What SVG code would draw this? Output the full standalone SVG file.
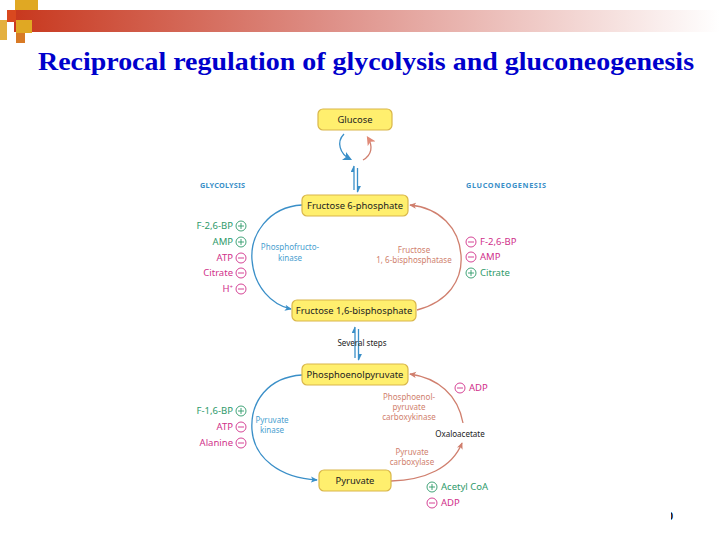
<svg xmlns="http://www.w3.org/2000/svg" width="720" height="540" viewBox="0 0 720 540">
<defs>
<linearGradient id="bar" x1="0" y1="0" x2="1" y2="0">
<stop offset="0" stop-color="#C8381E"/>
<stop offset="0.45" stop-color="#DE9088"/>
<stop offset="1" stop-color="#FFFFFF"/>
</linearGradient>
<marker id="ab" viewBox="0 0 8 8" refX="7" refY="4" markerWidth="7" markerHeight="7" orient="auto" markerUnits="userSpaceOnUse">
<path d="M0,0.5 L8,4 L0,7.5 L2,4 z" fill="#3A8FC8"/>
</marker>
<marker id="ar" viewBox="0 0 8 8" refX="7" refY="4" markerWidth="7" markerHeight="7" orient="auto" markerUnits="userSpaceOnUse">
<path d="M0,0.5 L8,4 L0,7.5 L2,4 z" fill="#D07F6E"/>
</marker>
<marker id="abig" viewBox="0 0 8 8" refX="6" refY="4" markerWidth="9" markerHeight="9" orient="auto" markerUnits="userSpaceOnUse">
<path d="M0,0 L8,4 L0,8 L2,4 z" fill="#3A8FC8"/>
</marker>
<marker id="arbig" viewBox="0 0 8 8" refX="6" refY="4" markerWidth="9" markerHeight="9" orient="auto" markerUnits="userSpaceOnUse">
<path d="M0,0 L8,4 L0,8 L2,4 z" fill="#E08A78"/>
</marker>
<marker id="abh" viewBox="0 0 8 8" refX="7" refY="4" markerWidth="7" markerHeight="7" orient="auto" markerUnits="userSpaceOnUse">
<path d="M0,4 L8,4 L0,0 z" fill="#3A8FC8"/>
</marker>
<clipPath id="pg"><rect x="671" y="505" width="20" height="20"/></clipPath>
</defs>
<style>
.box{fill:#FFEF6E;stroke:#D9B64A;stroke-width:1.2}
.bt{font-family:"Noto Sans","DejaVu Sans",sans-serif;font-size:9.4px;fill:#222;text-anchor:middle}
.lbl{font-family:"Noto Sans","DejaVu Sans",sans-serif;font-size:8px;text-anchor:middle}
.reg{font-family:"Noto Sans","DejaVu Sans",sans-serif;font-size:9.5px}
.g{fill:#2E9A6A}
.m{fill:#D0308A}
.cg{fill:none;stroke:#2E9A6A;stroke-width:0.9}
.cm{fill:none;stroke:#D0308A;stroke-width:0.9}
.blue{fill:none;stroke:#3A8FC8;stroke-width:1.3}
.red{fill:none;stroke:#D07F6E;stroke-width:1.3}
.hdr{font-family:"Noto Sans","DejaVu Sans",sans-serif;font-size:7.3px;font-weight:bold;fill:#3A8FC8}
</style>
<g id="header">
<rect x="14" y="10" width="706" height="22" fill="url(#bar)"/>
<rect x="15" y="0" width="23" height="10" fill="#E0A823"/>
<rect x="7" y="10" width="9" height="12" fill="#D9481F"/>
<rect x="0" y="20" width="7" height="20" fill="#E4B040"/>
<rect x="16" y="20" width="16" height="13" fill="#E0A823"/>
<rect x="16" y="33" width="9" height="10" fill="#D87A25"/>
<text x="366" y="70" font-family="Liberation Serif,serif" font-weight="bold" font-size="26" fill="#0000CC" text-anchor="middle" textLength="656" lengthAdjust="spacingAndGlyphs">Reciprocal regulation of glycolysis and gluconeogenesis</text>
</g>
<g id="connectors">
<path class="blue" d="M344,134 C336,142 340,154 350,159" stroke-width="3.2" marker-end="url(#abig)"/>
<path class="red" d="M363,160 C372,155 373,146 368,138" stroke-width="3.2" stroke="#E08A78" marker-end="url(#arbig)"/>
<line x1="354" y1="190" x2="354" y2="166" class="blue" stroke-width="1.5" marker-end="url(#abh)"/>
<line x1="357.5" y1="168" x2="357.5" y2="192" class="blue" stroke-width="1.5" marker-end="url(#abh)"/>
<line x1="355" y1="358" x2="355" y2="327" class="blue" stroke-width="1.5" marker-end="url(#abh)"/>
<line x1="358.5" y1="329" x2="358.5" y2="360" class="blue" stroke-width="1.5" marker-end="url(#abh)"/>
<path class="blue" d="M302,205 C268,207 250,235 252,260 C254,287 272,305 291,309" marker-end="url(#ab)"/>
<path class="red" d="M417,310 C448,302 463,280 461,255 C459,228 440,208 410,205" marker-end="url(#ar)"/>
<path class="blue" d="M302,375 C268,377 250,402 252,430 C254,458 280,478 317,480" marker-end="url(#ab)"/>
<path class="red" d="M391,481 C425,480 452,468 462,443" marker-end="url(#ar)"/>
<path class="red" d="M463,423 C458,395 438,378 410,374" marker-end="url(#ar)"/>
</g>
<g id="glucose">
<rect class="box" x="318" y="109" width="74" height="21" rx="5"/>
<text class="bt" x="355" y="122.5">Glucose</text>
</g>
<g id="f6p">
<rect class="box" x="302" y="195" width="106" height="21" rx="5"/>
<text class="bt" x="355" y="208.5">Fructose 6-phosphate</text>
</g>
<g id="f16bp">
<rect class="box" x="292" y="300" width="124" height="21" rx="5"/>
<text class="bt" x="354" y="313.5">Fructose 1,6-bisphosphate</text>
</g>
<g id="pep">
<rect class="box" x="302" y="364" width="106" height="21" rx="5"/>
<text class="bt" x="355" y="377.5">Phosphoenolpyruvate</text>
</g>
<g id="pyruvate">
<rect class="box" x="319" y="470" width="72" height="21" rx="5"/>
<text class="bt" x="355" y="483.5">Pyruvate</text>
</g>
<g id="labels">
<text class="hdr" x="200" y="188" textLength="45">GLYCOLYSIS</text>
<text class="hdr" x="466" y="188" textLength="80">GLUCONEOGENESIS</text>
<text class="lbl" x="290" y="250" fill="#4AA0D0">Phosphofructo-</text>
<text class="lbl" x="290" y="261" fill="#4AA0D0">kinase</text>
<text class="lbl" x="414" y="253" fill="#D07F6E">Fructose</text>
<text class="lbl" x="414" y="263" fill="#D07F6E">1, 6-bisphosphatase</text>
<text class="lbl" x="362" y="346" fill="#222" text-anchor="start">Several steps</text>
<text class="lbl" x="272" y="423" fill="#4AA0D0">Pyruvate</text>
<text class="lbl" x="272" y="433" fill="#4AA0D0">kinase</text>
<text class="lbl" x="409" y="400" fill="#D07F6E">Phosphoenol-</text>
<text class="lbl" x="409" y="410" fill="#D07F6E">pyruvate</text>
<text class="lbl" x="409" y="420" fill="#D07F6E">carboxykinase</text>
<text class="lbl" x="460" y="437" fill="#222" font-size="9">Oxaloacetate</text>
<text class="lbl" x="412" y="455" fill="#D07F6E">Pyruvate</text>
<text class="lbl" x="412" y="465" fill="#D07F6E">carboxylase</text>
</g>
<g id="regulators">
<text class="reg g" x="233" y="229" text-anchor="end">F-2,6-BP</text>
<text class="reg g" x="233" y="245" text-anchor="end">AMP</text>
<text class="reg m" x="233" y="261" text-anchor="end">ATP</text>
<text class="reg m" x="233" y="276" text-anchor="end">Citrate</text>
<text class="reg m" x="233" y="292" text-anchor="end">H<tspan font-size="6" dy="-3">+</tspan></text>
<text class="reg g" x="233" y="414" text-anchor="end">F-1,6-BP</text>
<text class="reg m" x="233" y="430" text-anchor="end">ATP</text>
<text class="reg m" x="233" y="446" text-anchor="end">Alanine</text>
<circle class="cg" cx="241" cy="226" r="5"/><path class="cg" d="M238,226h6M241,223v6"/>
<circle class="cg" cx="241" cy="242" r="5"/><path class="cg" d="M238,242h6M241,239v6"/>
<circle class="cm" cx="241" cy="258" r="5"/><path class="cm" d="M238,258h6"/>
<circle class="cm" cx="241" cy="273" r="5"/><path class="cm" d="M238,273h6"/>
<circle class="cm" cx="241" cy="289" r="5"/><path class="cm" d="M238,289h6"/>
<circle class="cg" cx="241" cy="411" r="5"/><path class="cg" d="M238,411h6M241,408v6"/>
<circle class="cm" cx="241" cy="427" r="5"/><path class="cm" d="M238,427h6"/>
<circle class="cm" cx="241" cy="443" r="5"/><path class="cm" d="M238,443h6"/>
<circle class="cm" cx="471" cy="242" r="5"/><path class="cm" d="M468,242h6"/>
<text class="reg m" x="480" y="245">F-2,6-BP</text>
<circle class="cm" cx="471" cy="257" r="5"/><path class="cm" d="M468,257h6"/>
<text class="reg m" x="480" y="260">AMP</text>
<circle class="cg" cx="471" cy="273" r="5"/><path class="cg" d="M468,273h6M471,270v6"/>
<text class="reg g" x="480" y="276">Citrate</text>
<circle class="cm" cx="460" cy="388" r="5"/><path class="cm" d="M457,388h6"/>
<text class="reg m" x="469" y="391">ADP</text>
<circle class="cg" cx="432" cy="487" r="5"/><path class="cg" d="M429,487h6M432,484v6"/>
<text class="reg g" x="441" y="490">Acetyl CoA</text>
<circle class="cm" cx="432" cy="503" r="5"/><path class="cm" d="M429,503h6"/>
<text class="reg m" x="441" y="506">ADP</text>
</g>
<text x="667" y="520" font-family="Liberation Sans,sans-serif" font-weight="bold" font-size="11" fill="#000" clip-path="url(#pg)">0</text>
</svg>
